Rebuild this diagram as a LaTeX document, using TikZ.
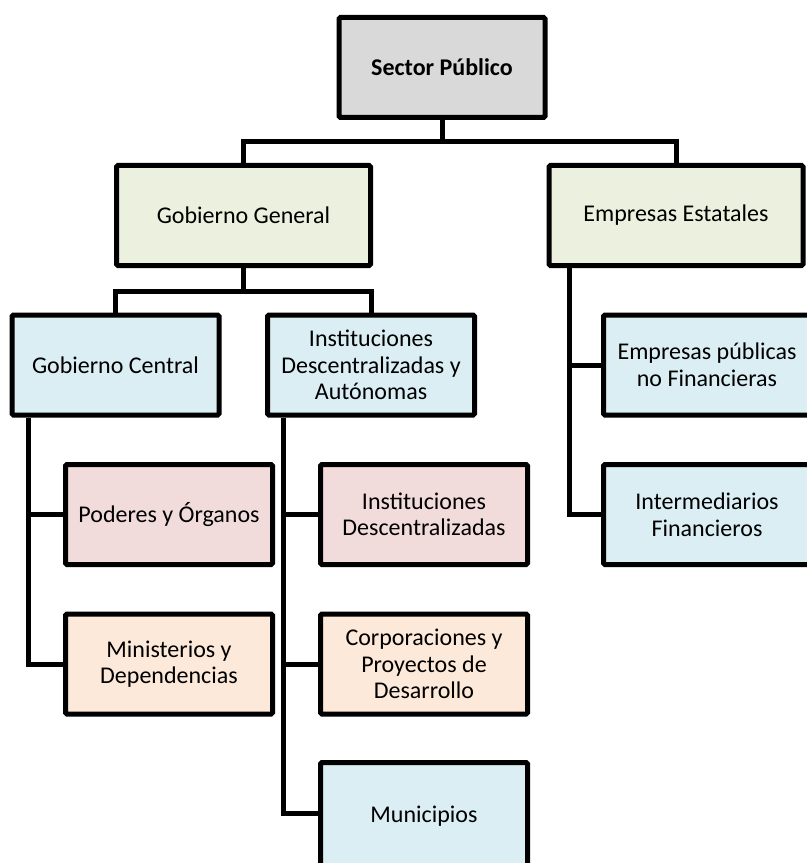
\documentclass[tikz,border=0pt]{standalone}
\usepackage{fontspec}
\setmainfont{Carlito}
\usetikzlibrary{positioning}

\definecolor{grisbox}{HTML}{D9D9D9}
\definecolor{verdebox}{HTML}{EBF1DE}
\definecolor{azulbox}{HTML}{DBEEF4}
\definecolor{rosabox}{HTML}{F2DCDB}
\definecolor{naranjabox}{HTML}{FDE9D9}

\tikzset{
  caja/.style={draw=black, line width=3.75pt, rounded corners=1pt,
    minimum width=155.25pt, minimum height=75pt, inner sep=0pt,
    align=center, font=\fontsize{18}{19.9}\selectfont},
  enlace/.style={draw=black, line width=3.75pt}
}

\begin{document}
\begin{tikzpicture}[x=0.75pt, y=-0.75pt]
    \useasboundingbox (0,0) rectangle (806,863);

    % nivel 1
    \node[caja, fill=grisbox, minimum width=154.5pt] (sp) at (442,67.5) {\textbf{Sector Público}};

    % nivel 2
    \node[caja, fill=verdebox, minimum width=190.5pt] (gg) at (243.5,215.5) {Gobierno General};
    \node[caja, fill=verdebox, minimum width=190.5pt] (ee) at (676,215.5) {Empresas Estatales};

    % nivel 3
    \node[caja, fill=azulbox] (gc) at (115.5,365) {Gobierno Central};
    \node[caja, fill=azulbox] (ida) at (371,365) {Instituciones\\Descentralizadas y\\Autónomas};
    \node[caja, fill=azulbox] (epnf) at (707,365) {Empresas públicas\\no Financieras};

    % nivel 4
    \node[caja, fill=rosabox] (po) at (169,514.5) {Poderes y Órganos};
    \node[caja, fill=rosabox] (idesc) at (424,514.5) {Instituciones\\Descentralizadas};
    \node[caja, fill=azulbox] (imf) at (707,514.5) {Intermediarios\\Financieros};

    % nivel 5
    \node[caja, fill=naranjabox] (mi) at (169,664) {Ministerios y\\Dependencias};
    \node[caja, fill=naranjabox] (corp) at (424,664) {Corporaciones y\\Proyectos de\\Desarrollo};

    % nivel 6 (cortada abajo)
    \node[caja, fill=azulbox, minimum height=81pt] (mun) at (424,816.5) {Municipios};

    % conexiones
    \coordinate (bus1) at (442,142);
    \coordinate (bus2) at (243.5,291);
    \draw[enlace] (sp.south) -- (bus1);
    \draw[enlace] (gg.north) |- (bus1) -| (ee.north);
    \draw[enlace] (gg.south) -- (bus2);
    \draw[enlace] (gc.north) |- (bus2) -| (ida.north);

    \draw[enlace] ([xshift=14.6pt]gc.south west) |- (po.west);
    \draw[enlace] ([xshift=14.6pt]gc.south west) |- (mi.west);

    \draw[enlace] ([xshift=13.9pt]ida.south west) |- (idesc.west);
    \draw[enlace] ([xshift=13.9pt]ida.south west) |- (corp.west);
    \draw[enlace] ([xshift=13.9pt]ida.south west) |- ([yshift=2.6pt]mun.west);

    \draw[enlace] ([xshift=16.9pt]ee.south west) |- (epnf.west);
    \draw[enlace] ([xshift=16.9pt]ee.south west) |- (imf.west);
\end{tikzpicture}
\end{document}
